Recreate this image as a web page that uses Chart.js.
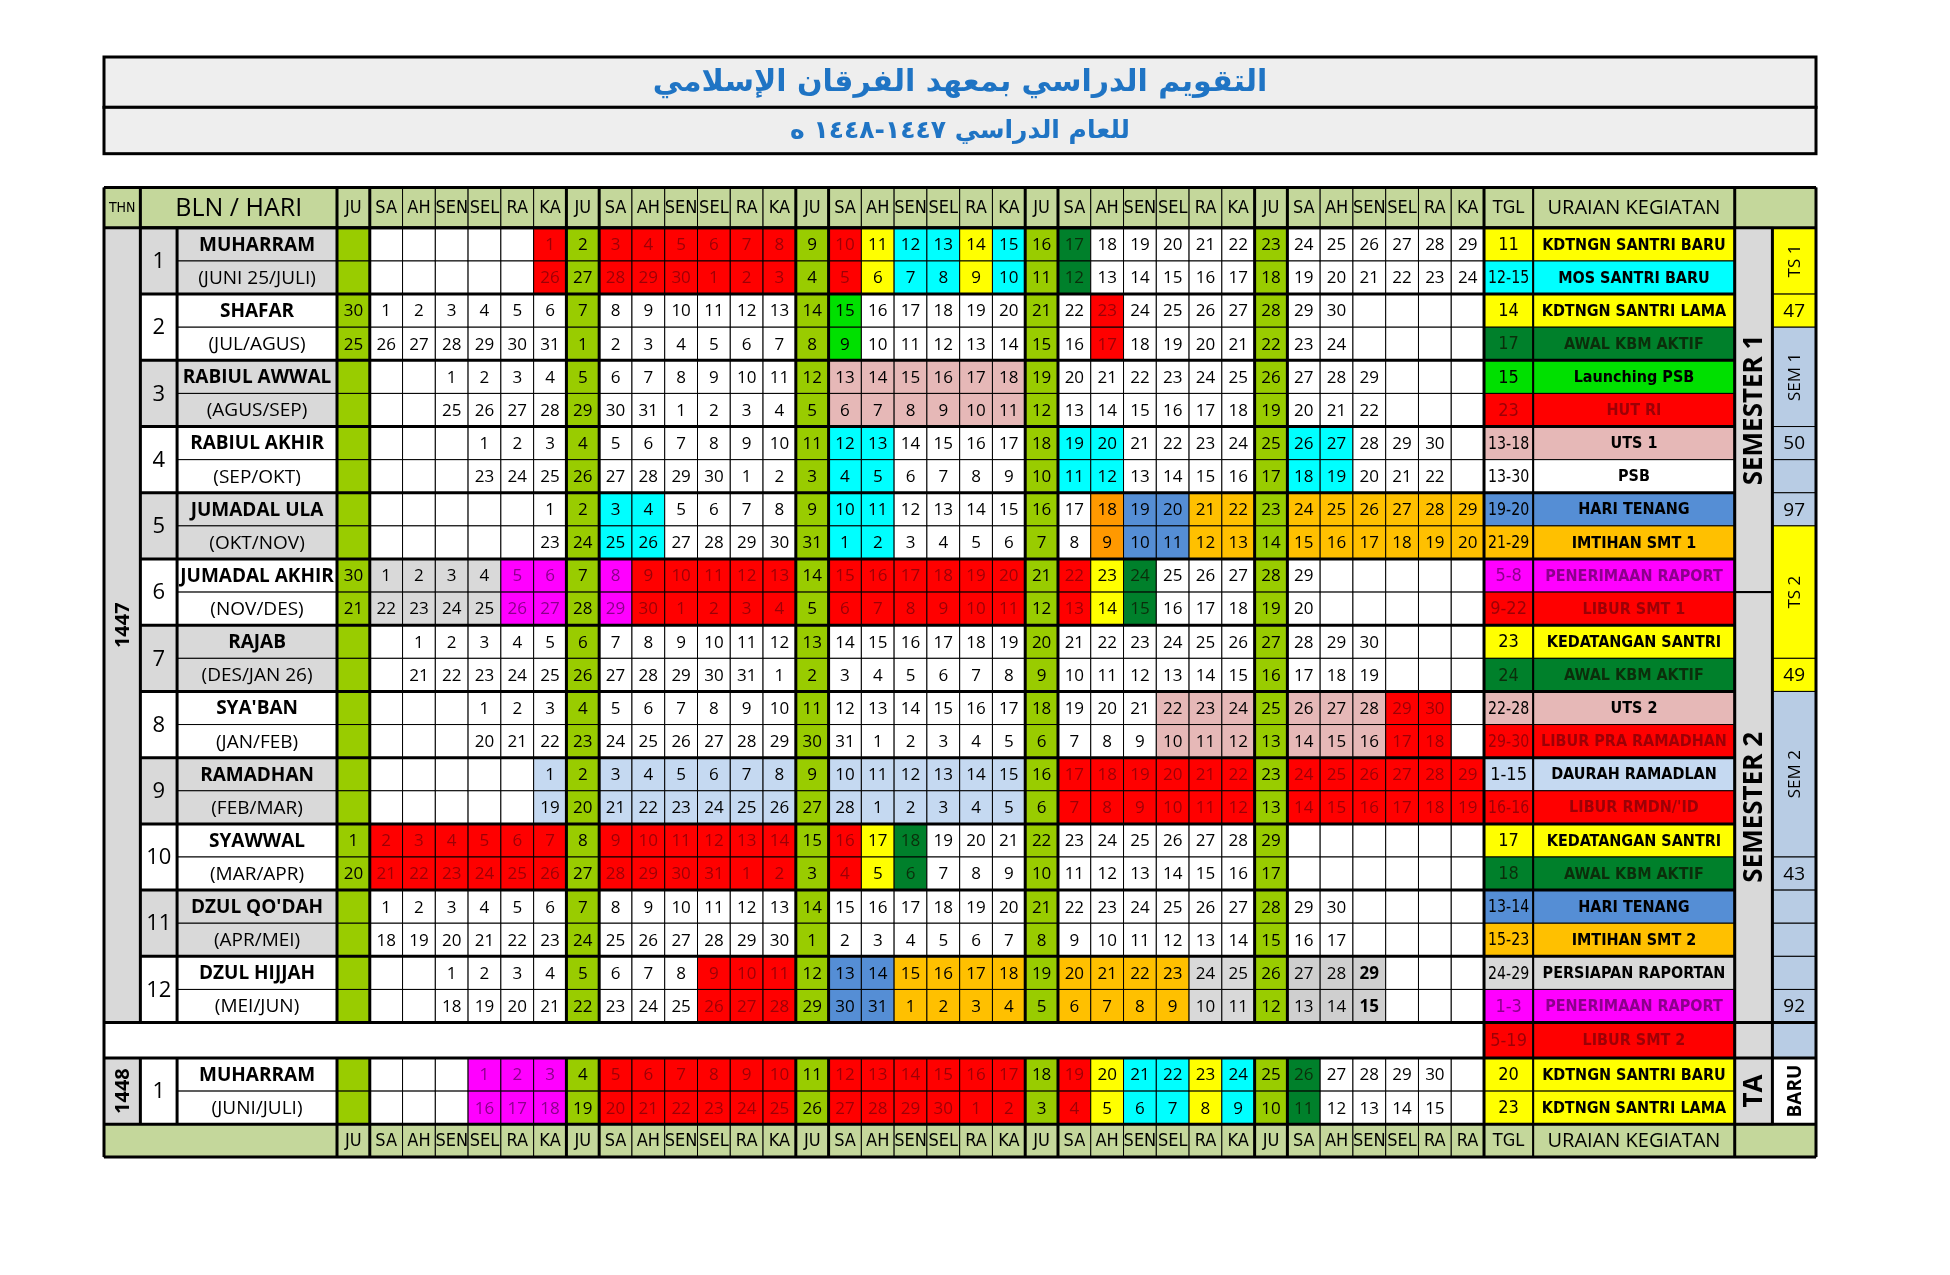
<!DOCTYPE html>
<html><head><meta charset="utf-8">
<script src="https://cdn.jsdelivr.net/npm/chart.js@4/dist/chart.umd.min.js"></script>
<style>html,body{margin:0;padding:0;background:#fff}canvas{display:block}</style>
</head><body>
<canvas id="c" width="1950" height="1275"></canvas>
<script>
// ---------- DATA ----------
const titleMain = "التقويم الدراسي بمعهد الفرقان الإسلامي";
const titleSub = "للعام الدراسي ١٤٤٧-١٤٤٨ ه";
const headerDays = ["JU","SA","AH","SEN","SEL","RA","KA","JU","SA","AH","SEN","SEL","RA","KA","JU","SA","AH","SEN","SEL","RA","KA","JU","SA","AH","SEN","SEL","RA","KA","JU","SA","AH","SEN","SEL","RA","KA"];
const footerDays = ["JU","SA","AH","SEN","SEL","RA","KA","JU","SA","AH","SEN","SEL","RA","KA","JU","SA","AH","SEN","SEL","RA","KA","JU","SA","AH","SEN","SEL","RA","KA","JU","SA","AH","SEN","SEL","RA","RA"];
const monthNames = ["MUHARRAM","SHAFAR","RABIUL AWWAL","RABIUL AKHIR","JUMADAL ULA","JUMADAL AKHIR","RAJAB","SYA'BAN","RAMADHAN","SYAWWAL","DZUL QO'DAH","DZUL HIJJAH","MUHARRAM"];
const monthGreg = ["(JUNI 25/JULI)","(JUL/AGUS)","(AGUS/SEP)","(SEP/OKT)","(OKT/NOV)","(NOV/DES)","(DES/JAN 26)","(JAN/FEB)","(FEB/MAR)","(MAR/APR)","(APR/MEI)","(MEI/JUN)","(JUNI/JULI)"];
const monthNums = ["1","2","3","4","5","6","7","8","9","10","11","12","1"];
const hijriStartCol = [6,1,3,4,6,1,2,4,6,0,1,3,4];
const hijriDays =     [29,30,29,30,29,29,30,30,29,29,30,29,30];
const gregFirst =     [26,26,25,23,23,22,21,20,19,20,18,18,16];
const gregMonthLen =  [30,31,31,30,31,30,31,31,28,31,30,31,30];
const carryHijri =    [null,30,null,null,null,30,null,null,null,null,null,null,null];
const carryGreg =     [null,25,null,null,null,21,null,null,null,null,null,null,null];
const greyMonth =     [true,false,true,false,true,false,true,false,true,false,true,false,false];
// highlights: [month, fromCol, toCol, colorKey]
const highlights = [
 [0,6,13,"red"],[0,15,15,"red"],[0,16,16,"yel"],[0,17,18,"cyan"],[0,19,19,"yel"],[0,20,20,"cyan"],[0,22,22,"dkg"],
 [1,15,15,"brg"],[1,23,23,"red"],
 [2,15,20,"pink"],
 [3,15,16,"cyan"],[3,22,23,"cyan"],[3,29,30,"cyan"],
 [4,8,9,"cyan"],[4,15,16,"cyan"],[4,23,23,"org"],[4,24,25,"blue"],[4,26,27,"gold"],[4,29,34,"gold"],
 [5,1,4,"gray"],[5,5,6,"mag"],[5,8,8,"mag"],[5,9,13,"red"],[5,15,20,"red"],[5,22,22,"red"],[5,23,23,"yel"],[5,24,24,"dkg"],
 [7,25,27,"pink"],[7,29,31,"pink"],[7,32,33,"red"],
 [8,6,20,"lblue"],[8,22,34,"red"],
 [9,1,13,"red"],[9,15,15,"red"],[9,16,16,"yel"],[9,17,17,"dkg"],
 [11,11,13,"red"],[11,15,16,"blue"],[11,17,20,"gold"],[11,22,25,"gold"],[11,26,27,"gray"],[11,29,31,"gray2"],
 [12,4,6,"mag"],[12,8,20,"red"],[12,22,22,"red"],[12,23,23,"yel"],[12,24,25,"cyan"],[12,26,26,"yel"],[12,27,27,"cyan"],[12,29,29,"dkg"]
];
const boldCells = [[11,31]];
const eventTgl = ["11","12-15","14","17","15","23","13-18","13-30","19-20","21-29","5-8","9-22","23","24","22-28","29-30","1-15","16-16","17","18","13-14","15-23","24-29","1-3","5-19","20","23"];
const eventText = ["KDTNGN SANTRI BARU","MOS SANTRI BARU","KDTNGN SANTRI LAMA","AWAL KBM AKTIF","Launching PSB","HUT RI","UTS 1","PSB","HARI TENANG","IMTIHAN SMT 1","PENERIMAAN RAPORT","LIBUR SMT 1","KEDATANGAN SANTRI","AWAL KBM AKTIF","UTS 2","LIBUR PRA RAMADHAN","DAURAH RAMADLAN","LIBUR RMDN/'ID","KEDATANGAN SANTRI","AWAL KBM AKTIF","HARI TENANG","IMTIHAN SMT 2","PERSIAPAN RAPORTAN","PENERIMAAN RAPORT","LIBUR SMT 2","KDTNGN SANTRI BARU","KDTNGN SANTRI LAMA"];
const eventColor = ["yel","cyan","yel","dkg","brg","red","pink","white","blue","gold","mag","red","yel","dkg","pink","red","lblue","red","yel","dkg","blue","gold","gray","mag","red","yel","yel"];
// side column 2 blocks: [fromRow, toRow, colorKey, text, vertical]
const side2 = [[0,2,"yel","TS 1",true],[2,3,"yel","47",false],[3,6,"lblue2","SEM 1",true],[6,7,"lblue2","50",false],[7,8,"lblue2","",false],[8,9,"lblue2","97",false],
 [9,13,"yel","TS 2",true],[13,14,"yel","49",false],[14,19,"lblue2","SEM 2",true],[19,20,"lblue2","43",false],[20,21,"lblue2","",false],[21,22,"lblue2","",false],[22,23,"lblue2","",false],[23,24,"lblue2","92",false],[24,25,"lblue2","",false],[25,27,"white","BARU",true]];
const side1 = [[0,11,"gray","SEMESTER 1"],[11,24,"gray","SEMESTER 2"],[24,25,"gray",""],[25,27,"gray","TA"]];

// ---------- STYLE ----------
const C = {red:"#FF0000",yel:"#FFFF00",cyan:"#00FFFF",dkg:"#00802B",brg:"#00E000",pink:"#E6B8B7",blue:"#558ED5",org:"#FF9900",gold:"#FFC000",mag:"#FF00FF",gray:"#D9D9D9",gray2:"#CFCFCF",lblue:"#C5D9F1",lblue2:"#B8CCE4",white:"#FFFFFF",ju:"#99CC00",head:"#C4D79B",title:"#EEEEEE"};
const TXT = {red:"#9C0006",mag:"#8B008B",dkg:"#0B2E0B"};
const X = {thn:-7.11,num:-6.0,name:-4.88,day:0,tgl:35,ura:36.5,s1:42.65,s2:43.8,end:45.13};
const BLANK0 = 24, BLANK1 = 25.07;
function rowY(r){ return r < 24 ? r : (r===24 ? BLANK0 : BLANK1 + (r-25)); }
function rowH(r){ return r===24 ? (BLANK1-BLANK0) : 1; }

const NARROW = '"Liberation Sans Narrow","DejaVu Sans Condensed",sans-serif';
const SANS = '"Open Sans","Noto Sans",sans-serif';

const tablePlugin = {
 id:'table',
 afterDraw(chart){
  const ctx = chart.ctx, xs = chart.scales.x, ys = chart.scales.y;
  const px = v => xs.getPixelForValue(v), py = v => ys.getPixelForValue(v);
  function rect(x0,x1,y0,y1,fill,lw){ const a=px(x0),b=px(x1),c=py(y0),d=py(y1);
    if(fill){ctx.fillStyle=fill;ctx.fillRect(a,c,b-a,d-c);}
    ctx.lineWidth=lw||1;ctx.strokeStyle="#000";ctx.strokeRect(a,c,b-a,d-c);}
  function text(s,x0,x1,y0,y1,font,color,rot,fit){ ctx.save(); ctx.font=font; ctx.fillStyle=color||"#000";
    ctx.textAlign="center"; ctx.textBaseline="middle";
    const cx=(px(x0)+px(x1))/2, cy=(py(y0)+py(y1))/2;
    ctx.translate(cx,cy); if(rot) ctx.rotate(-Math.PI/2);
    if(fit) ctx.fillText(s,0,1,Math.abs(px(x1)-px(x0))-8); else ctx.fillText(s,0,1); ctx.restore(); }
  function hline(x0,x1,y,lw){ctx.beginPath();ctx.lineWidth=lw;ctx.strokeStyle="#000";ctx.moveTo(px(x0),py(y));ctx.lineTo(px(x1),py(y));ctx.stroke();}
  function vline(x,y0,y1,lw){ctx.beginPath();ctx.lineWidth=lw;ctx.strokeStyle="#000";ctx.moveTo(px(x),py(y0));ctx.lineTo(px(x),py(y1));ctx.stroke();}

  // title
  rect(X.thn,X.end,-5.16,-3.64,C.title,3); rect(X.thn,X.end,-3.64,-2.24,C.title,3);
  ctx.save(); ctx.direction="rtl";
  text(titleMain,X.thn,X.end,-5.16,-3.64,'bold 30px "DejaVu Sans",sans-serif',"#1F74C4");
  text(titleSub,X.thn,X.end,-3.64,-2.24,'bold 25px "DejaVu Sans",sans-serif',"#1F74C4");
  ctx.restore();

  // header & footer
  const H0=-1.22, F0=BLANK1+2, F1=28.06;
  rect(X.thn,X.num,H0,0,C.head); text("THN",X.thn,X.num,H0,0,'14px '+NARROW);
  rect(X.num,X.day,H0,0,C.head); text("BLN / HARI",X.num,X.day,H0,0,'25px '+SANS);
  rect(X.thn,X.day,F0,F1,C.head);
  for(let c=0;c<35;c++){ rect(c,c+1,H0,0,C.head); text(headerDays[c],c,c+1,H0,0,'18px '+NARROW);
    rect(c,c+1,F0,F1,C.head); text(footerDays[c],c,c+1,F0,F1,'18px '+NARROW); }
  rect(X.tgl,X.ura,H0,0,C.head); text("TGL",X.tgl,X.ura,H0,0,'18px '+NARROW);
  rect(X.ura,X.s1,H0,0,C.head); text("URAIAN KEGIATAN",X.ura,X.s1,H0,0,'20px '+SANS);
  rect(X.s1,X.end,H0,0,C.head);
  rect(X.tgl,X.ura,F0,F1,C.head); text("TGL",X.tgl,X.ura,F0,F1,'18px '+NARROW);
  rect(X.ura,X.s1,F0,F1,C.head); text("URAIAN KEGIATAN",X.ura,X.s1,F0,F1,'20px '+SANS);
  rect(X.s1,X.end,F0,F1,C.head);

  // THN column
  rect(X.thn,X.num,0,24,C.gray); text("1447",X.thn,X.num,0,24,'bold 20px '+SANS,"#000",true);
  rect(X.thn,X.num,BLANK1,BLANK1+2,C.gray); text("1448",X.thn,X.num,BLANK1,BLANK1+2,'bold 20px '+SANS,"#000",true);

  // months
  for(let m=0;m<13;m++){
    const y0 = m<12 ? 2*m : BLANK1;
    const bg = greyMonth[m]?C.gray:C.white;
    rect(X.num,X.name,y0,y0+2,bg); text(monthNums[m],X.num,X.name,y0,y0+2,'22px '+SANS);
    rect(X.name,X.day,y0,y0+1,bg); text(monthNames[m],X.name,X.day,y0,y0+1,'bold 19px '+SANS);
    rect(X.name,X.day,y0+1,y0+2,bg); text(monthGreg[m],X.name,X.day,y0+1,y0+2,'19px '+SANS);
    for(let c=0;c<35;c++){
      let key="white";
      if(c%7===0) key="ju";
      else for(const h of highlights){ if(h[0]===m && c>=h[1] && c<=h[2]) key=h[3]; }
      let hv="", gv="";
      if(c===0 && carryHijri[m]!==null){ hv=carryHijri[m]; gv=carryGreg[m]; }
      else if(c>=hijriStartCol[m] && c<hijriStartCol[m]+hijriDays[m]){
        hv = c-hijriStartCol[m]+1; gv = gregFirst[m]+(c-hijriStartCol[m]); if(gv>gregMonthLen[m]) gv-=gregMonthLen[m]; }
      const bold = boldCells.some(b=>b[0]===m&&b[1]===c);
      const f = (bold?'bold ':'')+'17px '+SANS, col = TXT[key]||"#000";
      rect(c,c+1,y0,y0+1,C[key]); rect(c,c+1,y0+1,y0+2,C[key]);
      if(hv!=="") text(String(hv),c,c+1,y0,y0+1,f,col);
      if(gv!=="") text(String(gv),c,c+1,y0+1,y0+2,f,col);
    }
  }
  // blank row (merged white)
  rect(X.thn,X.tgl,BLANK0,BLANK1,C.white);
  // events
  for(let i=0;i<eventTgl.length;i++){
    const y0=rowY(i), y1=y0+rowH(i), k=eventColor[i], col=TXT[k]||"#000";
    rect(X.tgl,X.ura,y0,y1,C[k]); text(eventTgl[i],X.tgl,X.ura,y0,y1,'18px '+NARROW,col,false,true);
    rect(X.ura,X.s1,y0,y1,C[k]); text(eventText[i],X.ura,X.s1,y0,y1,'bold 16px '+NARROW,col,false,true);
  }
  // side columns
  for(const s of side1){ const y0=rowY(s[0]), y1=rowY(s[1]-1)+rowH(s[1]-1);
    rect(X.s1,X.s2,y0,y1,C[s[2]],2); if(s[3]) text(s[3],X.s1,X.s2,y0,y1,'bold 26px '+SANS,"#000",true); }
  for(const s of side2){ const y0=rowY(s[0]), y1=rowY(s[1]-1)+rowH(s[1]-1);
    rect(X.s2,X.end,y0,y1,C[s[2]]);
    if(s[3]) text(s[3],X.s2,X.end,y0,y1,(s[3]==="BARU"?'bold 19px ':(s[4]?'17px ':'19px '))+SANS,"#000",s[4]); }

  // thick lines
  const T=3;
  for(let m=0;m<=12;m++) hline(X.num,X.s1,2*m,T);
  hline(X.thn,X.end,H0,T); hline(X.thn,X.end,0,T);
  hline(X.thn,X.end,BLANK0,T); hline(X.thn,X.end,BLANK1,T); hline(X.thn,X.end,F0,T); hline(X.thn,X.end,F1,T);
  for(const x of [0,1,7,8,14,15,21,22,28,29]){ vline(x,H0,BLANK0,T); vline(x,BLANK1,F1,T); }
  vline(X.name,0,BLANK0,T); vline(X.name,BLANK1,F0,T);
  vline(X.num,H0,BLANK0,T); vline(X.num,BLANK1,F0,T);
  for(const x of [X.thn,X.tgl,X.s1,X.end]) vline(x,H0,F1,T);
  vline(X.s2,0,F0,T);
  vline(X.ura,H0,F1,2);
 }
};

new Chart(document.getElementById('c'),{
 type:'scatter',
 data:{datasets:[{data:[],showLine:false}]},
 options:{responsive:false,animation:false,devicePixelRatio:1,
  layout:{padding:{left:104,right:134,top:57,bottom:118}},
  plugins:{legend:{display:false},tooltip:{enabled:false}},
  scales:{x:{type:'linear',min:X.thn,max:X.end,display:false},
          y:{type:'linear',reverse:true,min:-5.16,max:28.06,display:false}}},
 plugins:[tablePlugin]
});
</script>
</body></html>
